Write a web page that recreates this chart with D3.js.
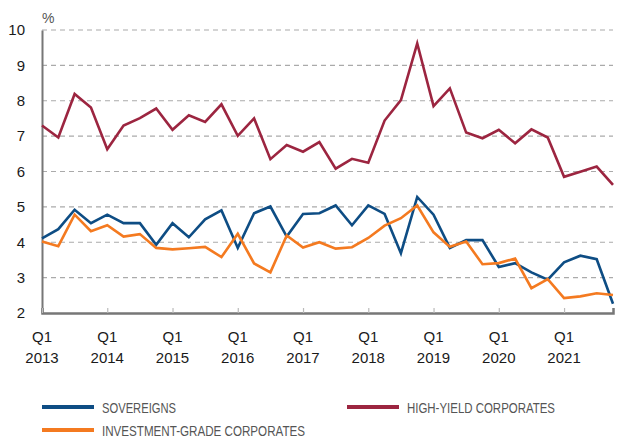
<!DOCTYPE html>
<html lang="en">

<head>
    <meta charset="UTF-8" />
    <title>Bond yields</title>
    <style>
        body { margin: 0; background: #fff; }
        svg text { font-family: "Liberation Sans", Arial, sans-serif; }
        .legend text { font-family: "Liberation Sans Narrow", "Liberation Sans", sans-serif; fill: #555; }
    </style>
</head>

<body>
    <div id="container"></div>
</body>
<script src="https://cdnjs.cloudflare.com/ajax/libs/d3/7.1.1/d3.min.js"></script>
<script>
    // quarterly, Q1 2013 .. Q4 2021
    let years = [2013, 2014, 2015, 2016, 2017, 2018, 2019, 2020, 2021];
    let yTicks = [2, 3, 4, 5, 6, 7, 8, 9, 10];
    let sovereigns = [4.11, 4.37, 4.92, 4.54, 4.78, 4.54, 4.54, 3.93, 4.54, 4.14, 4.65, 4.90,
        3.84, 4.82, 5.01, 4.16, 4.80, 4.82, 5.04, 4.48, 5.04, 4.80, 3.69, 5.28,
        4.78, 3.84, 4.06, 4.06, 3.30, 3.41, 3.15, 2.94, 3.43, 3.62, 3.52, 2.26];
    let highYield = [7.30, 6.96, 8.19, 7.81, 6.63, 7.30, 7.51, 7.78, 7.18, 7.59, 7.40, 7.90,
        7.01, 7.50, 6.35, 6.75, 6.56, 6.83, 6.08, 6.36, 6.25, 7.44, 8.02, 9.62,
        7.85, 8.35, 7.10, 6.94, 7.18, 6.80, 7.19, 6.96, 5.85, 5.99, 6.14, 5.62];
    let investGrade = [4.02, 3.89, 4.78, 4.31, 4.48, 4.16, 4.23, 3.84, 3.80, 3.83, 3.87, 3.58,
        4.24, 3.40, 3.15, 4.19, 3.85, 4.00, 3.82, 3.86, 4.12, 4.47, 4.68, 5.04,
        4.28, 3.87, 4.02, 3.38, 3.41, 3.54, 2.70, 2.96, 2.42, 2.47, 2.56, 2.51];

    let series = [
        { name: 'SOVEREIGNS', values: sovereigns, color: '#0e4d84' },
        { name: 'HIGH-YIELD CORPORATES', values: highYield, color: '#9c2540' },
        { name: 'INVESTMENT-GRADE CORPORATES', values: investGrade, color: '#f47a20' }
    ];

    let svg_w = 618, svg_h = 438;
    let m_left = 42, m_right = 613, m_top = 30, m_bottom = 313;

    let x = d3.scaleLinear().domain([0, sovereigns.length - 1]).range([m_left, m_right]);
    let y = d3.scaleLinear().domain([2, 10]).range([m_bottom, m_top]);

    let svg = d3.select('#container').append('svg').attr('width', svg_w).attr('height', svg_h);

    // grid
    svg.append('g').selectAll('line').data(yTicks.slice(1)).enter().append('line')
        .attr('x1', m_left).attr('x2', m_right)
        .attr('y1', d => y(d)).attr('y2', d => y(d))
        .attr('stroke', '#aaa').attr('stroke-width', 1.2).attr('stroke-dasharray', '5,4');

    // y axis
    let yAxis = svg.append('g').attr('transform', `translate(${m_left},0)`)
        .call(d3.axisLeft(y).tickValues(yTicks).tickSize(0).tickPadding(17));
    yAxis.select('.domain').attr('stroke', '#777').attr('stroke-width', 2);
    yAxis.selectAll('text').attr('font-size', 15).attr('fill', '#1a1a1a')
        .attr('font-family', '"Liberation Sans", Arial, sans-serif');

    svg.append('text').attr('x', 42).attr('y', 23).attr('font-size', 14).attr('fill', '#555').text('%');

    // x axis
    let xAxis = svg.append('g').attr('transform', `translate(0,${m_bottom})`)
        .call(d3.axisBottom(x).tickValues(years.map((d, i) => i * 4)).tickSize(-5).tickFormat(''));
    xAxis.select('.domain').attr('stroke', '#777').attr('stroke-width', 2.5);
    xAxis.selectAll('.tick line').attr('stroke', '#bbb').attr('stroke-width', 1.2);

    let xl = svg.append('g').selectAll('g').data(years).enter().append('text')
        .attr('text-anchor', 'middle').attr('font-size', 15).attr('fill', '#1a1a1a');
    xl.append('tspan').attr('x', (d, i) => x(i * 4)).attr('y', 342).text('Q1');
    xl.append('tspan').attr('x', (d, i) => x(i * 4)).attr('y', 363).text(d => d);

    // lines
    let line = d3.line().x((d, i) => x(i)).y(d => y(d));
    svg.append('g').selectAll('path').data([series[1], series[0], series[2]]).enter().append('path')
        .attr('d', d => line(d.values))
        .attr('fill', 'none')
        .attr('stroke', d => d.color)
        .attr('stroke-width', 2.6)
        .attr('stroke-linejoin', 'miter');

    // legend
    let legendPos = [[42, 407, 74], [347, 407, 148], [42, 430, 203]];
    let lg = svg.append('g').attr('class', 'legend').selectAll('g').data(series).enter().append('g')
        .attr('transform', (d, i) => `translate(${legendPos[i][0]},${legendPos[i][1]})`);
    lg.append('line').attr('x1', 0).attr('x2', 52).attr('stroke', d => d.color).attr('stroke-width', 4);
    lg.append('text').attr('x', 60).attr('y', 5.5).attr('font-size', 15)
        .attr('textLength', (d, i) => legendPos[i][2]).attr('lengthAdjust', 'spacingAndGlyphs')
        .text(d => d.name);
</script>

</html>
